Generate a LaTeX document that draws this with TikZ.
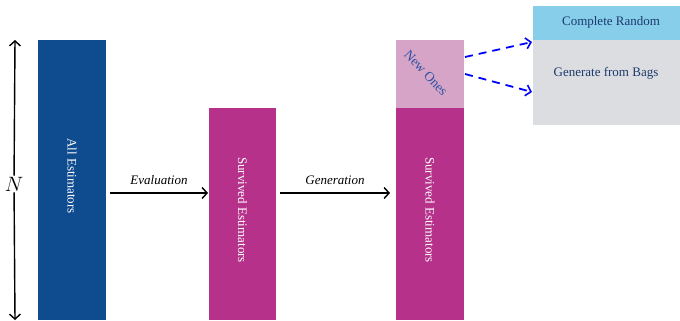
\documentclass[tikz,border=0pt]{standalone}
\usepackage{fontspec}
\setmainfont{Liberation Serif}
\usetikzlibrary{arrows.meta}
\definecolor{cblue}{HTML}{0F4C8F}
\definecolor{cpurple}{HTML}{B5318A}
\definecolor{cpink}{HTML}{D6A4C6}
\definecolor{csky}{HTML}{87CEEB}
\definecolor{cgray}{HTML}{DCDDE0}
\definecolor{cnavy}{HTML}{1C3A6E}
\definecolor{cnew}{HTML}{2A52A4}
\begin{document}
\begin{tikzpicture}[x=1pt,y=-1pt,
  bar/.style={draw=none,inner sep=0pt,text=white,font=\fontsize{13}{15}\selectfont},
  lbl/.style={font=\fontsize{13}{15}\selectfont\itshape,inner sep=1pt},
  arr/.style={-{Straight Barb[length=5pt,width=11pt,line width=1.4pt]},line width=1.4pt},
  darr/.style={-{Straight Barb[length=5pt,width=11pt,line width=1.6pt]},line width=1.8pt,blue,dash pattern=on 8pt off 6pt}]
\useasboundingbox (0,0) rectangle (680,321);
\fill[cblue] (38,40) rectangle (106,320);
\node[bar,rotate=-90] (all) at (72,176) {All Estimators};
\coordinate (allE) at (106,193);
\fill[cpurple] (209,108) rectangle (276,320);
\node[bar,rotate=-90] (surv1) at (242.5,210) {Survived Estimators};
\coordinate (s1W) at (209,193);
\coordinate (s1E) at (276,193);
\fill[cpurple] (396,108) rectangle (464,320);
\fill[cpink] (396,40) rectangle (464,108);
\node[bar,rotate=-90] (surv2) at (430,210) {Survived Estimators};
\coordinate (s2W) at (396,193);
\node[rotate=-47,text=cnew,font=\fontsize{13.5}{15}\selectfont,inner sep=0pt] (new) at (426,73) {New Ones};
\coordinate (n1) at (465,57);
\coordinate (n2) at (465,74);
\fill[csky] (533,6) rectangle (680,40);
\fill[cgray] (533,40) rectangle (680,125);
\node[text=cnavy,font=\fontsize{13}{15}\selectfont,inner sep=0pt] (cr) at (611,22) {Complete Random};
\node[text=cnavy,font=\fontsize{13}{15}\selectfont,inner sep=0pt] (gb) at (606,73) {Generate from Bags};
\coordinate (crW) at (532,42);
\coordinate (gbW) at (532,92);
\draw[arr] ([xshift=4pt]allE) -- ([xshift=-1pt]s1W) node[lbl,midway,above=7pt] {Evaluation};
\draw[arr] ([xshift=4pt]s1E) -- ([xshift=-6pt]s2W) node[lbl,midway,above=7pt] {Generation};
\draw[darr] (n1) -- (crW);
\draw[darr] (n2) -- (gbW);
\node[font=\fontsize{22}{24}\selectfont,inner sep=1pt] (N) at (14,184) {$N$};
\coordinate (Nt) at (15,40);
\coordinate (Nb) at (15,320);
\draw[arr] (N) -- (Nt);
\draw[arr] (N) -- (Nb);
\end{tikzpicture}
\end{document}
